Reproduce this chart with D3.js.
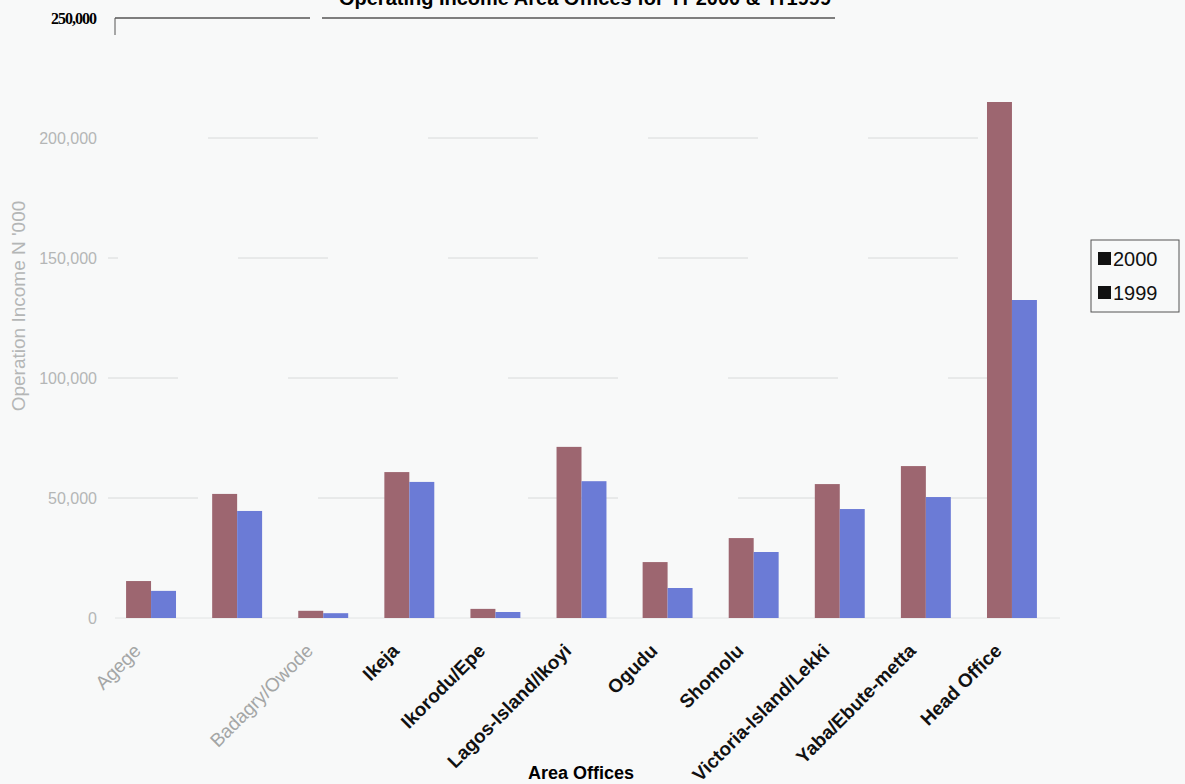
<!DOCTYPE html>
<html>
<head>
<meta charset="utf-8">
<script src="https://cdnjs.cloudflare.com/ajax/libs/d3/7.8.5/d3.min.js"></script>
<style>
  body { margin: 0; background: #f8f9f9; }
  svg { display: block; }
</style>
</head>
<body>
<div id="chart-area"></div>
<script>
// area offices (second group carries no label in the original)
var categories = ['Agege', '', 'Badagry/Owode', 'Ikeja', 'Ikorodu/Epe', 'Lagos-Island/Ikoyi',
                  'Ogudu', 'Shomolu', 'Victoria-Island/Lekki', 'Yaba/Ebute-metta', 'Head Office'];
var greyLabels = ['Agege', 'Badagry/Owode'];
var series = ['2000', '1999'];
var values2000 = [15400, 51700, 3000, 60800, 3800, 71300, 23300, 33300, 55800, 63300, 215000];
var values1999 = [11300, 44600, 2000, 56700, 2500, 57000, 12500, 27500, 45400, 50400, 132500];
var yTicks = [0, 50000, 100000, 150000, 200000];
var colors = ['#9d6670', '#6b7bd6'];

var W = 1185, H = 784;
var font = 'Liberation Sans, Arial, sans-serif';
var svg = d3.select('#chart-area').append('svg').attr('width', W).attr('height', H);

var x = d3.scaleBand().domain(d3.range(categories.length)).range([108, 1055])
          .paddingInner(0.42).paddingOuter(0.21);
var x1 = d3.scaleBand().domain(series).range([0, x.bandwidth()]);
var y = d3.scaleLinear().domain([0, 250000]).range([618, 18]);

// title, cut off at the top of the picture as in the scan
svg.append('text')
   .attr('x', 585).attr('y', 5)
   .attr('text-anchor', 'middle')
   .attr('font-family', font)
   .attr('font-weight', 'bold').attr('font-size', '20px')
   .text('Operating Income Area Offices for Yr 2000 & Yr1999');

// faint broken gridlines
svg.append('g').selectAll('line').data(yTicks.slice(1)).enter()
   .append('line')
   .attr('x1', 108).attr('x2', 1000)
   .attr('y1', d => y(d)).attr('y2', d => y(d))
   .attr('stroke', '#d8dada').attr('stroke-width', 1)
   .attr('stroke-dasharray', (d, i) => i % 2 ? '110,110' : '90,120')
   .attr('stroke-dashoffset', (d, i) => i * 40);

// top line at 250,000
svg.append('line')
   .attr('x1', 115).attr('x2', 835).attr('y1', y(250000)).attr('y2', y(250000))
   .attr('stroke', '#555').attr('stroke-width', 1.3)
   .attr('stroke-dasharray', '195,12,520');
svg.append('line')
   .attr('x1', 115).attr('x2', 115).attr('y1', y(250000)).attr('y2', y(250000) + 17)
   .attr('stroke', '#555').attr('stroke-width', 1);
svg.append('text')
   .attr('x', 96).attr('y', y(250000) + 6)
   .attr('text-anchor', 'end')
   .attr('font-family', 'Liberation Serif, Times New Roman, serif')
   .attr('font-weight', 'bold').attr('font-size', '16px')
   .attr('letter-spacing', '-1px')
   .text('250,000');

// baseline
svg.append('line')
   .attr('x1', 115).attr('x2', 1060).attr('y1', y(0)).attr('y2', y(0))
   .attr('stroke', '#e2e4e4');

// y axis tick labels
var yAxis = d3.axisLeft(y).tickValues(yTicks).tickSize(0).tickPadding(0)
              .tickFormat(d => d3.format(',')(d));
var ya = svg.append('g').attr('transform', 'translate(97,0)').call(yAxis);
ya.select('.domain').remove();
ya.selectAll('text').attr('fill', '#b4b6b6').attr('font-size', '16px')
  .attr('font-family', font);

svg.append('text')
   .attr('transform', 'translate(25,306) rotate(-90)')
   .attr('text-anchor', 'middle')
   .attr('fill', '#b4b6b6')
   .attr('font-family', font)
   .attr('font-size', '19px')
   .text("Operation Income N '000");

// bars
var rows = categories.map((c, i) => ({ i: i, vals: [values2000[i], values1999[i]] }));
var groups = svg.append('g').selectAll('g').data(rows).enter()
   .append('g').attr('transform', d => `translate(${x(d.i)},0)`);
groups.selectAll('rect').data(d => d.vals.map((v, k) => ({ key: series[k], v: v, k: k }))).enter()
   .append('rect')
   .attr('x', d => x1(d.key))
   .attr('y', d => y(d.v))
   .attr('width', x1.bandwidth())
   .attr('height', d => y(0) - y(d.v))
   .attr('fill', d => colors[d.k]);

// x axis labels
svg.append('g').selectAll('text').data(categories.map((c, i) => ({ c: c, i: i }))).enter()
   .append('text')
   .attr('transform', d => `translate(${x(d.i) + x.bandwidth() / 2 - 9},${652}) rotate(-45)`)
   .attr('text-anchor', 'end')
   .attr('font-family', font)
   .attr('font-size', '19px')
   .attr('font-weight', d => greyLabels.includes(d.c) ? 'normal' : 'bold')
   .attr('fill', d => greyLabels.includes(d.c) ? '#a4a6a6' : '#111')
   .text(d => d.c);

svg.append('text')
   .attr('x', 581).attr('y', 779)
   .attr('text-anchor', 'middle')
   .attr('font-family', font)
   .attr('font-weight', 'bold').attr('font-size', '18px')
   .text('Area Offices');

// legend
var lg = svg.append('g').attr('transform', 'translate(1091,240)');
lg.append('rect').attr('width', 88).attr('height', 72)
  .attr('fill', 'none').attr('stroke', '#555').attr('stroke-width', 1);
var li = lg.selectAll('g').data(series).enter().append('g')
  .attr('transform', (d, i) => `translate(7,${19 + i * 34})`);
li.append('rect').attr('x', 0).attr('y', -7).attr('width', 13).attr('height', 13).attr('fill', '#111');
li.append('text').attr('x', 15).attr('y', 7)
  .attr('font-family', font)
  .attr('font-size', '20px').attr('fill', '#111')
  .text(d => d);
</script>
</body>
</html>
